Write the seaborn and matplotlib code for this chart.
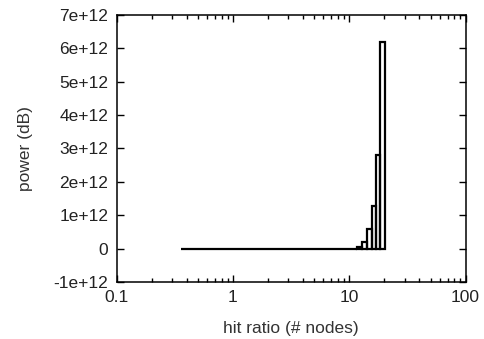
import numpy as np
import pandas as pd
import matplotlib
matplotlib.use('Agg')
import matplotlib.pyplot as plt
import seaborn as sns
from matplotlib.ticker import FixedLocator, LogLocator, NullFormatter

# bin edges (hit ratio) and box heights (power)
bin_edges = [0.355, 11.7, 12.85, 14.2, 15.6, 16.9, 18.3, 20.2]
power = [0.0, 0.06e12, 0.19e12, 0.6e12, 1.27e12, 2.81e12, 6.2e12]
x_ticks = [0.1, 1, 10, 100]
x_labels = ['0.1', '1', '10', '100']
y_ticks = [-1e12, 0, 1e12, 2e12, 3e12, 4e12, 5e12, 6e12, 7e12]
y_labels = ['-1e+12', '0', '1e+12', '2e+12', '3e+12', '4e+12', '5e+12', '6e+12', '7e+12']

sns.set_style('ticks')
plt.rcParams['font.family'] = ['Liberation Sans', 'DejaVu Sans']

edges = np.array(bin_edges)
df = pd.DataFrame({'hit': np.sqrt(edges[:-1] * edges[1:]), 'power': power})

fig = plt.figure(figsize=(4.84, 3.39), dpi=100)
ax = fig.add_axes([0.241, 0.168, 0.721, 0.788])

sns.histplot(data=df, x='hit', weights='power', bins=list(bin_edges), element='bars',
             fill=False, color='black', linewidth=1.6, ax=ax)

ax.set_xscale('log')
ax.set_xlim(0.1, 100)
ax.set_ylim(-1e12, 7e12)

ax.xaxis.set_major_locator(FixedLocator(x_ticks))
ax.set_xticklabels(x_labels)
ax.xaxis.set_minor_locator(LogLocator(base=10, subs=np.arange(2, 10)))
ax.xaxis.set_minor_formatter(NullFormatter())
ax.set_yticks(y_ticks)
ax.set_yticklabels(y_labels)

ax.tick_params(which='both', direction='in', top=True, right=True,
               labelsize=12.5, colors='black', labelcolor='#222222', width=1)
ax.tick_params(which='major', length=5, pad=6)
ax.tick_params(which='minor', length=3)
for s in ax.spines.values():
    s.set_visible(True)
    s.set_linewidth(1.1)
    s.set_color('black')

ax.set_xlabel('hit ratio (# nodes)', fontsize=12.5, color='#333333', labelpad=11)
ax.set_ylabel('power (dB)', fontsize=12.5, color='#333333', labelpad=15)

fig.savefig('out.png', dpi=100)
